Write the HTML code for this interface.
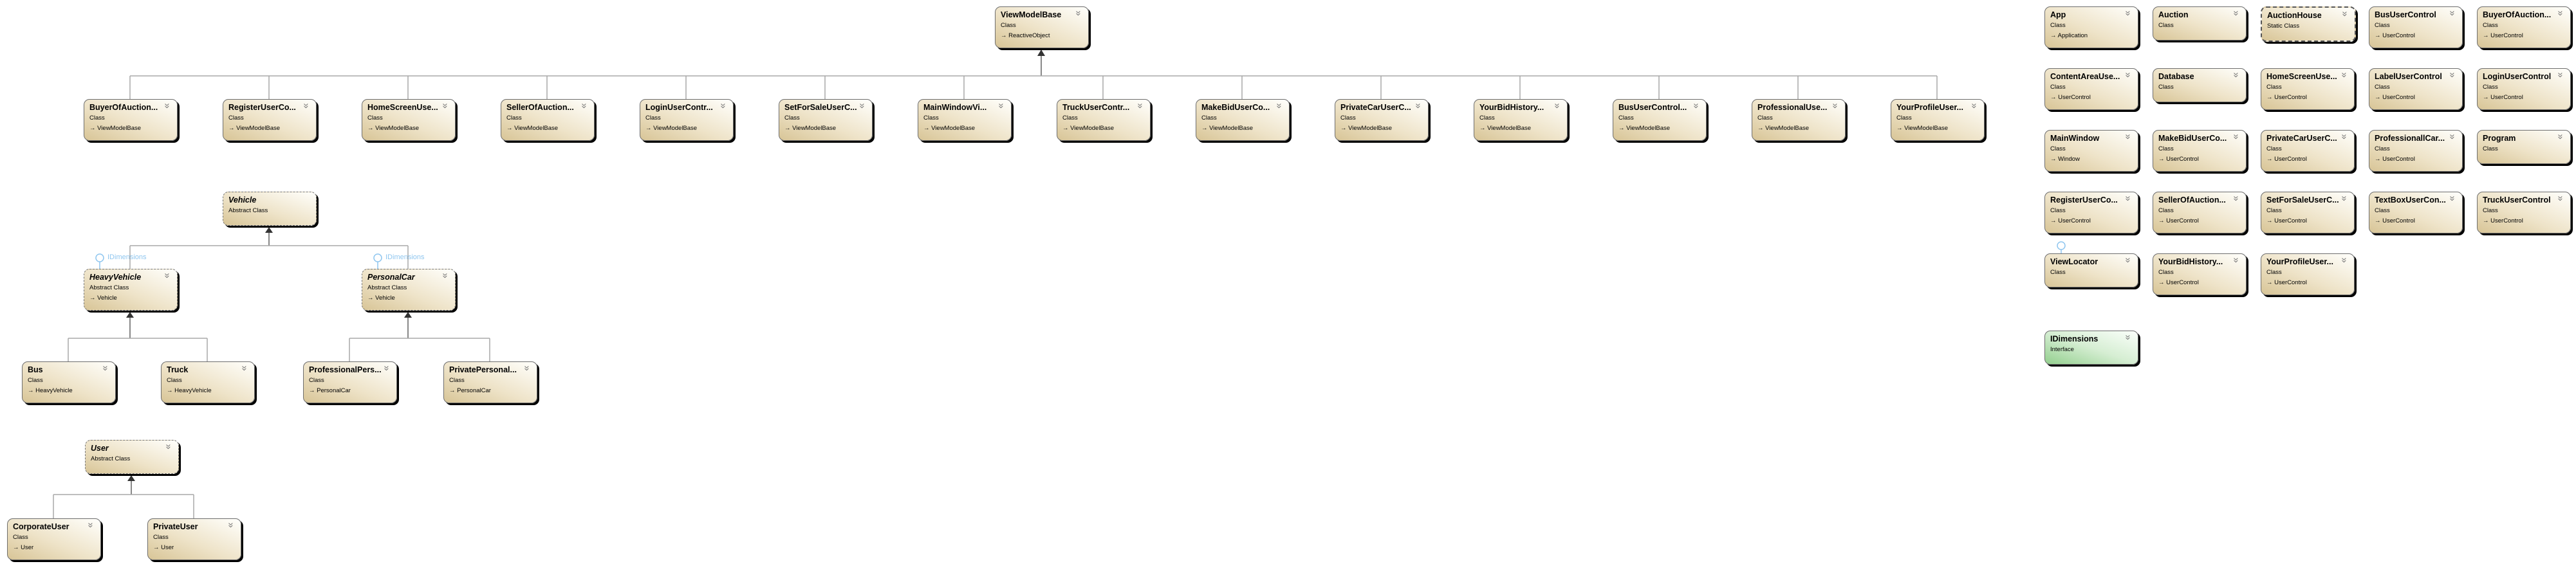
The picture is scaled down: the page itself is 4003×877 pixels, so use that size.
<!DOCTYPE html>
<html><head><meta charset="utf-8"><style>
body{margin:0;width:4003px;height:877px;background:#fff;position:relative;overflow:hidden;font-family:"Liberation Sans",sans-serif}
.b{position:absolute;width:144px;height:63px;border:1px solid #6e6e6e;border-radius:9px;background:linear-gradient(to top right,#d8c597 0%,#eee3c8 45%,#fffffc 100%);box-shadow:3px 3px 0 #000;box-sizing:content-box}
.h{height:51px}
.a{border:1px dashed #777}
.st{border:2px dashed #555}
.g{background:linear-gradient(to top right,#93cf8e 0%,#d6eed3 50%,#fbfffb 100%)}
.b div{position:absolute;left:8px;white-space:nowrap;color:#000}
.t{top:5px;font-weight:bold;font-size:12.5px}
.a .t{font-style:italic}
.s{top:23px;font-size:9.5px}
.p{top:39px;font-size:9.5px}
.b .c{left:auto;right:11px;top:2px;font-size:15px;line-height:15px;color:#777;transform:rotate(90deg)}
.lb{position:absolute;color:#8fc6ef;font-size:11px}
</style></head><body>
<svg width="4003" height="877" style="position:absolute;left:0;top:0">
<g stroke="#a8a8a8" stroke-width="1.5" fill="none">
<line x1="1618" y1="87" x2="1618" y2="118" stroke="#888" stroke-width="2"/>
<line x1="202" y1="118" x2="3010" y2="118"/>
<line x1="202" y1="118" x2="202" y2="154"/><line x1="418" y1="118" x2="418" y2="154"/><line x1="634" y1="118" x2="634" y2="154"/><line x1="850" y1="118" x2="850" y2="154"/><line x1="1066" y1="118" x2="1066" y2="154"/><line x1="1282" y1="118" x2="1282" y2="154"/><line x1="1498" y1="118" x2="1498" y2="154"/><line x1="1714" y1="118" x2="1714" y2="154"/><line x1="1930" y1="118" x2="1930" y2="154"/><line x1="2146" y1="118" x2="2146" y2="154"/><line x1="2362" y1="118" x2="2362" y2="154"/><line x1="2578" y1="118" x2="2578" y2="154"/><line x1="2794" y1="118" x2="2794" y2="154"/><line x1="3010" y1="118" x2="3010" y2="154"/>
<line x1="418" y1="362" x2="418" y2="382" stroke="#888" stroke-width="2"/>
<line x1="202" y1="382" x2="634" y2="382"/><line x1="202" y1="382" x2="202" y2="418"/><line x1="634" y1="382" x2="634" y2="418"/>
<line x1="202" y1="494" x2="202" y2="526" stroke="#888" stroke-width="2"/>
<line x1="106" y1="526" x2="322" y2="526"/><line x1="106" y1="526" x2="106" y2="562"/><line x1="322" y1="526" x2="322" y2="562"/>
<line x1="634" y1="494" x2="634" y2="526" stroke="#888" stroke-width="2"/>
<line x1="543" y1="526" x2="761" y2="526"/><line x1="543" y1="526" x2="543" y2="562"/><line x1="761" y1="526" x2="761" y2="562"/>
<line x1="204" y1="748" x2="204" y2="769" stroke="#888" stroke-width="2"/>
<line x1="83" y1="769" x2="301" y2="769"/><line x1="83" y1="769" x2="83" y2="806"/><line x1="301" y1="769" x2="301" y2="806"/>
</g>
<g fill="#333"><polygon points="1618,77 1612,87 1624,87"/><polygon points="418,353 412,362 424,362"/><polygon points="202,485 196,494 208,494"/><polygon points="634,485 628,494 640,494"/><polygon points="204,739 198,748 210,748"/></g>
<g stroke="#8fc6ef" stroke-width="1.5" fill="#fff"><line x1="155" y1="407" x2="155" y2="418"/><circle cx="155" cy="401" r="6"/><line x1="587" y1="407" x2="587" y2="418"/><circle cx="587" cy="401" r="6"/><line x1="3203" y1="388" x2="3203" y2="394"/><circle cx="3203" cy="382" r="6"/></g>
</svg>
<div class="lb" style="left:167px;top:394px">IDimensions</div>
<div class="lb" style="left:599px;top:394px">IDimensions</div>

<div class="b" style="left:1546px;top:10px"><div class="t">ViewModelBase</div><div class="c">»</div><div class="s">Class</div><div class="p">→ ReactiveObject</div></div>

<div class="b" style="left:130px;top:154px"><div class="t">BuyerOfAuction...</div><div class="c">»</div><div class="s">Class</div><div class="p">→ ViewModelBase</div></div>
<div class="b" style="left:346px;top:154px"><div class="t">RegisterUserCo...</div><div class="c">»</div><div class="s">Class</div><div class="p">→ ViewModelBase</div></div>
<div class="b" style="left:562px;top:154px"><div class="t">HomeScreenUse...</div><div class="c">»</div><div class="s">Class</div><div class="p">→ ViewModelBase</div></div>
<div class="b" style="left:778px;top:154px"><div class="t">SellerOfAuction...</div><div class="c">»</div><div class="s">Class</div><div class="p">→ ViewModelBase</div></div>
<div class="b" style="left:994px;top:154px"><div class="t">LoginUserContr...</div><div class="c">»</div><div class="s">Class</div><div class="p">→ ViewModelBase</div></div>
<div class="b" style="left:1210px;top:154px"><div class="t">SetForSaleUserC...</div><div class="c">»</div><div class="s">Class</div><div class="p">→ ViewModelBase</div></div>
<div class="b" style="left:1426px;top:154px"><div class="t">MainWindowVi...</div><div class="c">»</div><div class="s">Class</div><div class="p">→ ViewModelBase</div></div>
<div class="b" style="left:1642px;top:154px"><div class="t">TruckUserContr...</div><div class="c">»</div><div class="s">Class</div><div class="p">→ ViewModelBase</div></div>
<div class="b" style="left:1858px;top:154px"><div class="t">MakeBidUserCo...</div><div class="c">»</div><div class="s">Class</div><div class="p">→ ViewModelBase</div></div>
<div class="b" style="left:2074px;top:154px"><div class="t">PrivateCarUserC...</div><div class="c">»</div><div class="s">Class</div><div class="p">→ ViewModelBase</div></div>
<div class="b" style="left:2290px;top:154px"><div class="t">YourBidHistory...</div><div class="c">»</div><div class="s">Class</div><div class="p">→ ViewModelBase</div></div>
<div class="b" style="left:2506px;top:154px"><div class="t">BusUserControl...</div><div class="c">»</div><div class="s">Class</div><div class="p">→ ViewModelBase</div></div>
<div class="b" style="left:2722px;top:154px"><div class="t">ProfessionalUse...</div><div class="c">»</div><div class="s">Class</div><div class="p">→ ViewModelBase</div></div>
<div class="b" style="left:2938px;top:154px"><div class="t">YourProfileUser...</div><div class="c">»</div><div class="s">Class</div><div class="p">→ ViewModelBase</div></div>

<div class="b h a" style="left:346px;top:298px"><div class="t">Vehicle</div><div class="s">Abstract Class</div></div>
<div class="b a" style="left:130px;top:418px"><div class="t">HeavyVehicle</div><div class="c">»</div><div class="s">Abstract Class</div><div class="p">→ Vehicle</div></div>
<div class="b a" style="left:562px;top:418px"><div class="t">PersonalCar</div><div class="c">»</div><div class="s">Abstract Class</div><div class="p">→ Vehicle</div></div>
<div class="b" style="left:34px;top:562px"><div class="t">Bus</div><div class="c">»</div><div class="s">Class</div><div class="p">→ HeavyVehicle</div></div>
<div class="b" style="left:250px;top:562px"><div class="t">Truck</div><div class="c">»</div><div class="s">Class</div><div class="p">→ HeavyVehicle</div></div>
<div class="b" style="left:471px;top:562px"><div class="t">ProfessionalPers...</div><div class="c">»</div><div class="s">Class</div><div class="p">→ PersonalCar</div></div>
<div class="b" style="left:689px;top:562px"><div class="t">PrivatePersonal...</div><div class="c">»</div><div class="s">Class</div><div class="p">→ PersonalCar</div></div>

<div class="b h a" style="left:132px;top:684px"><div class="t">User</div><div class="c">»</div><div class="s">Abstract Class</div></div>
<div class="b" style="left:11px;top:806px"><div class="t">CorporateUser</div><div class="c">»</div><div class="s">Class</div><div class="p">→ User</div></div>
<div class="b" style="left:229px;top:806px"><div class="t">PrivateUser</div><div class="c">»</div><div class="s">Class</div><div class="p">→ User</div></div>

<div class="b" style="left:3177px;top:10px"><div class="t">App</div><div class="c">»</div><div class="s">Class</div><div class="p">→ Application</div></div>
<div class="b h" style="left:3345px;top:10px"><div class="t">Auction</div><div class="c">»</div><div class="s">Class</div></div>
<div class="b h st" style="left:3513px;top:10px"><div class="t">AuctionHouse</div><div class="c">»</div><div class="s">Static Class</div></div>
<div class="b" style="left:3681px;top:10px"><div class="t">BusUserControl</div><div class="c">»</div><div class="s">Class</div><div class="p">→ UserControl</div></div>
<div class="b" style="left:3849px;top:10px"><div class="t">BuyerOfAuction...</div><div class="c">»</div><div class="s">Class</div><div class="p">→ UserControl</div></div>

<div class="b" style="left:3177px;top:106px"><div class="t">ContentAreaUse...</div><div class="c">»</div><div class="s">Class</div><div class="p">→ UserControl</div></div>
<div class="b h" style="left:3345px;top:106px"><div class="t">Database</div><div class="c">»</div><div class="s">Class</div></div>
<div class="b" style="left:3513px;top:106px"><div class="t">HomeScreenUse...</div><div class="c">»</div><div class="s">Class</div><div class="p">→ UserControl</div></div>
<div class="b" style="left:3681px;top:106px"><div class="t">LabelUserControl</div><div class="c">»</div><div class="s">Class</div><div class="p">→ UserControl</div></div>
<div class="b" style="left:3849px;top:106px"><div class="t">LoginUserControl</div><div class="c">»</div><div class="s">Class</div><div class="p">→ UserControl</div></div>

<div class="b" style="left:3177px;top:202px"><div class="t">MainWindow</div><div class="c">»</div><div class="s">Class</div><div class="p">→ Window</div></div>
<div class="b" style="left:3345px;top:202px"><div class="t">MakeBidUserCo...</div><div class="c">»</div><div class="s">Class</div><div class="p">→ UserControl</div></div>
<div class="b" style="left:3513px;top:202px"><div class="t">PrivateCarUserC...</div><div class="c">»</div><div class="s">Class</div><div class="p">→ UserControl</div></div>
<div class="b" style="left:3681px;top:202px"><div class="t">ProfessionallCar...</div><div class="c">»</div><div class="s">Class</div><div class="p">→ UserControl</div></div>
<div class="b h" style="left:3849px;top:202px"><div class="t">Program</div><div class="c">»</div><div class="s">Class</div></div>

<div class="b" style="left:3177px;top:298px"><div class="t">RegisterUserCo...</div><div class="c">»</div><div class="s">Class</div><div class="p">→ UserControl</div></div>
<div class="b" style="left:3345px;top:298px"><div class="t">SellerOfAuction...</div><div class="c">»</div><div class="s">Class</div><div class="p">→ UserControl</div></div>
<div class="b" style="left:3513px;top:298px"><div class="t">SetForSaleUserC...</div><div class="c">»</div><div class="s">Class</div><div class="p">→ UserControl</div></div>
<div class="b" style="left:3681px;top:298px"><div class="t">TextBoxUserCon...</div><div class="c">»</div><div class="s">Class</div><div class="p">→ UserControl</div></div>
<div class="b" style="left:3849px;top:298px"><div class="t">TruckUserControl</div><div class="c">»</div><div class="s">Class</div><div class="p">→ UserControl</div></div>

<div class="b h" style="left:3177px;top:394px"><div class="t">ViewLocator</div><div class="c">»</div><div class="s">Class</div></div>
<div class="b" style="left:3345px;top:394px"><div class="t">YourBidHistory...</div><div class="c">»</div><div class="s">Class</div><div class="p">→ UserControl</div></div>
<div class="b" style="left:3513px;top:394px"><div class="t">YourProfileUser...</div><div class="c">»</div><div class="s">Class</div><div class="p">→ UserControl</div></div>

<div class="b h g" style="left:3177px;top:514px"><div class="t">IDimensions</div><div class="c">»</div><div class="s">Interface</div></div>
</body></html>
